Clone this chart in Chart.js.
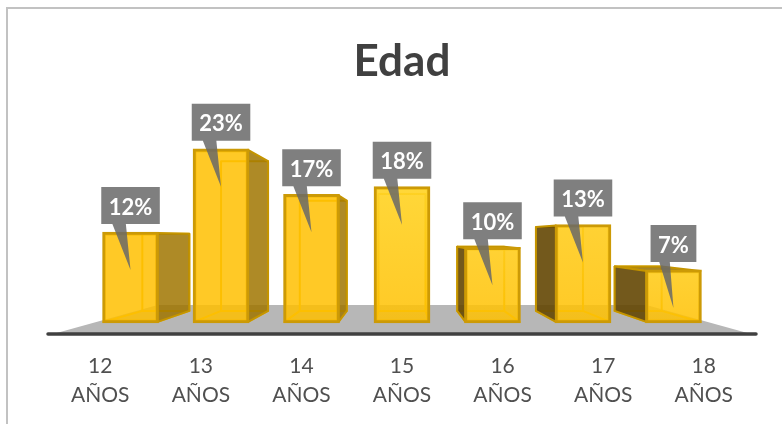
<!DOCTYPE html>
<html><head><meta charset="utf-8">
<style>html,body{margin:0;padding:0;background:#fff}canvas{display:block}</style>
<script src="https://cdn.jsdelivr.net/npm/chart.js@4"></script>
</head><body>
<canvas id="c" width="782" height="424"></canvas>
<script>
const titleText = 'Edad';
const categories = [['12','AÑOS'],['13','AÑOS'],['14','AÑOS'],['15','AÑOS'],['16','AÑOS'],['17','AÑOS'],['18','AÑOS']];
const positions = [0,1,2,3,4,5,6];
const percentages = [12,23,17,18,10,13,7];

const YMIN=-1.47, YMAX=31;
const VANISH_VALUE=11.33, BOX_DEPTH=0.87, FLOOR_DEPTH=0.70, TIP_DROP=38, GAP=8;
const FONT='Lato, "Open Sans", sans-serif';

function quad(ctx,p,fill,stroke,w){
  ctx.beginPath();ctx.moveTo(p[0][0],p[0][1]);
  for(let i=1;i<p.length;i++)ctx.lineTo(p[i][0],p[i][1]);
  ctx.closePath();
  if(fill){ctx.fillStyle=fill;ctx.fill();}
  if(stroke){ctx.strokeStyle=stroke;ctx.lineWidth=w||2;ctx.lineJoin='round';ctx.stroke();}
}
const scene={
  id:'scene',
  beforeDraw(chart){
    const c=chart.ctx;
    c.save();c.fillStyle='#fff';c.fillRect(0,0,chart.width,chart.height);
    c.strokeStyle='#c2c2c2';c.lineWidth=2;
    c.beginPath();c.moveTo(7,chart.height);c.lineTo(7,8);c.lineTo(chart.width,8);c.stroke();
    c.restore();
  },
  beforeDatasetsDraw(chart){
    const c=chart.ctx,a=chart.chartArea,y=chart.scales.y,xf=chart.scales.xFront;
    const vx=xf.getPixelForValue(3),vy=y.getPixelForValue(VANISH_VALUE);
    const toBack=(px,py,s)=>[vx+(px-vx)*s,vy+(py-vy)*s];
    c.save();
    // floor
    const fl=[a.left+3,a.bottom],fr=[a.right-3,a.bottom];
    quad(c,[fl,fr,toBack(fr[0],fr[1],FLOOR_DEPTH),toBack(fl[0],fl[1],FLOOR_DEPTH)],'#b7b7b7');
    // box back and side faces
    const bars=chart.getDatasetMeta(0).data;
    bars.forEach(b=>{
      const L=b.x-b.width/2+1,R=b.x+b.width/2-1,T=b.y+1,B=y.getPixelForValue(0)-1;
      const bl=toBack(L,B,BOX_DEPTH),br=toBack(R,B,BOX_DEPTH),tl=toBack(L,T,BOX_DEPTH),tr=toBack(R,T,BOX_DEPTH);
      quad(c,[tl,tr,br,bl],null,'#EDB800',2);
      quad(c,[[L,B],[R,B],br,bl],null,'#EDB800',2);
      if(T>vy) quad(c,[[L,T],[R,T],tr,tl],'rgba(150,110,0,.85)','#C49400',2);
      if(R<vx-1) quad(c,[[R,T],tr,br,[R,B]],'rgba(160,118,0,.85)','#C49400',2);
      if(L>vx+1) quad(c,[[L,T],tl,bl,[L,B]],'rgba(100,71,3,.9)','#C49400',2);
    });
    c.restore();
  },
  afterDatasetsDraw(chart){
    const c=chart.ctx,a=chart.chartArea;
    c.save();
    // axis line
    c.strokeStyle='#404040';c.lineWidth=3.5;c.lineCap='round';
    c.beginPath();c.moveTo(a.left-2,a.bottom);c.lineTo(a.right+2,a.bottom);c.stroke();
    // callouts
    c.font='bold 22px '+FONT;c.textAlign='center';c.textBaseline='middle';
    chart.getDatasetMeta(0).data.forEach((b,i)=>{
      const t=percentages[i]+'%',w=c.measureText(t).width+15,h=37;
      const l=b.x-w/2,bot=b.y-GAP;
      c.fillStyle='rgba(105,105,105,.85)';
      c.beginPath();
      c.moveTo(l,bot-h);c.lineTo(l+w,bot-h);c.lineTo(l+w,bot);
      c.lineTo(l+w*0.42,bot);c.lineTo(b.x,b.y+TIP_DROP);c.lineTo(l+w*0.19,bot);c.lineTo(l,bot);
      c.closePath();c.fill();
      c.fillStyle='#fff';c.fillText(t,b.x,bot-h/2+2);
    });
    c.restore();
  }
};
function frontFill(ctx){
  const ch=ctx.chart,a=ch.chartArea;
  if(!a||ctx.dataIndex===undefined)return 'rgba(255,192,0,.85)';
  const i=ctx.dataIndex;
  if(i<3)return 'rgba(255,192,0,.85)';
  const y=ch.scales.y,top=y.getPixelForValue(percentages[i]),bot=y.getPixelForValue(0);
  const g=ch.ctx.createLinearGradient(0,top,0,bot);
  g.addColorStop(0,i===3?'rgba(255,212,40,.92)':'rgba(255,205,30,.9)');
  g.addColorStop(1,'rgba(255,192,0,.85)');
  return g;
}
new Chart(document.getElementById('c'),{
  type:'bar',
  data:{labels:categories,datasets:[{
    label:titleText,
    data:positions.map((p,i)=>({x:p,y:percentages[i]})),
    xAxisID:'xFront',yAxisID:'y',
    backgroundColor:frontFill,borderColor:'#CC9A06',borderWidth:3,barThickness:56,borderSkipped:false
  }]},
  options:{
    responsive:false,animation:false,
    layout:{padding:{left:50,right:28,top:8,bottom:-4}},
    plugins:{
      legend:{display:false},tooltip:{enabled:false},
      title:{display:true,text:titleText,color:'#404040',font:{family:FONT,size:44,weight:'bold'},padding:{top:27,bottom:0.5}}
    },
    scales:{
      x:{type:'category',offset:true,grid:{display:false,drawTicks:false},border:{display:false},
         ticks:{color:'#505050',font:{family:FONT,size:21,lineHeight:1.38},padding:18,autoSkip:false,maxRotation:0,minRotation:0}},
      xFront:{type:'linear',display:false,offset:false,min:-0.89,max:6.89},
      y:{display:false,min:YMIN,max:YMAX}
    }
  },
  plugins:[scene]
});
</script>
</body></html>
